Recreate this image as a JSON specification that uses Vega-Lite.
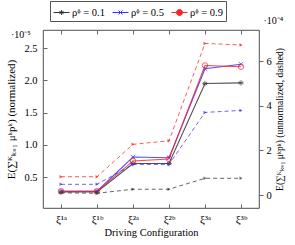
{
  "$schema": "https://vega.github.io/schema/vega-lite/v6.json",
  "width": 216,
  "height": 178,
  "autosize": {"type": "none"},
  "padding": {"left": 43, "top": 30, "right": 36, "bottom": 37},
  "background": "white",
  "title": {"text": "·10⁻⁵", "anchor": "start", "frame": "group", "dx": -32, "dy": 42, "offset": 3, "fontSize": 10, "fontWeight": "normal", "font": "Liberation Serif", "color": "#000"},
  "config": {
    "font": "Liberation Serif",
    "view": {"stroke": "#222", "strokeWidth": 0.8},
    "axis": {"grid": false, "domain": false, "labelFont": "Liberation Serif", "titleFont": "Liberation Serif", "labelColor": "#000", "titleColor": "#000", "tickColor": "#666", "titleFontWeight": "normal"},
    "legend": {"labelFont": "Liberation Serif"}
  },
  "datasets": {
    "d": [
      {"cfg": "ξ¹ᵃ", "s": "ρᶲ = 0.1", "n": 0.27, "u": 0.10},
      {"cfg": "ξ¹ᵇ", "s": "ρᶲ = 0.1", "n": 0.27, "u": 0.08},
      {"cfg": "ξ²ᵃ", "s": "ρᶲ = 0.1", "n": 0.71, "u": 0.26},
      {"cfg": "ξ²ᵇ", "s": "ρᶲ = 0.1", "n": 0.71, "u": 0.26},
      {"cfg": "ξ³ᵃ", "s": "ρᶲ = 0.1", "n": 1.95, "u": 0.75},
      {"cfg": "ξ³ᵇ", "s": "ρᶲ = 0.1", "n": 1.96, "u": 0.75},
      {"cfg": "ξ¹ᵃ", "s": "ρᶲ = 0.5", "n": 0.28, "u": 0.48},
      {"cfg": "ξ¹ᵇ", "s": "ρᶲ = 0.5", "n": 0.28, "u": 0.48},
      {"cfg": "ξ²ᵃ", "s": "ρᶲ = 0.5", "n": 0.81, "u": 1.37},
      {"cfg": "ξ²ᵇ", "s": "ρᶲ = 0.5", "n": 0.80, "u": 1.37},
      {"cfg": "ξ³ᵃ", "s": "ρᶲ = 0.5", "n": 2.18, "u": 3.70},
      {"cfg": "ξ³ᵇ", "s": "ρᶲ = 0.5", "n": 2.25, "u": 3.79},
      {"cfg": "ξ¹ᵃ", "s": "ρᶲ = 0.9", "n": 0.28, "u": 0.82},
      {"cfg": "ξ¹ᵇ", "s": "ρᶲ = 0.9", "n": 0.28, "u": 0.82},
      {"cfg": "ξ²ᵃ", "s": "ρᶲ = 0.9", "n": 0.75, "u": 2.27},
      {"cfg": "ξ²ᵇ", "s": "ρᶲ = 0.9", "n": 0.78, "u": 2.43},
      {"cfg": "ξ³ᵃ", "s": "ρᶲ = 0.9", "n": 2.23, "u": 6.79},
      {"cfg": "ξ³ᵇ", "s": "ρᶲ = 0.9", "n": 2.21, "u": 6.72}
    ]
  },
  "data": {"name": "d"},
  "encoding": {
    "color": {
      "field": "s", "type": "nominal",
      "scale": {"domain": ["ρᶲ = 0.1", "ρᶲ = 0.5", "ρᶲ = 0.9"], "range": ["#333333", "#3333ff", "#ff2222"]},
      "legend": {"orient": "none", "legendX": 7, "legendY": -29, "direction": "horizontal", "title": null, "strokeColor": "#555", "fillColor": "white", "padding": 3, "symbolSize": 256, "symbolStrokeWidth": 1, "symbolOpacity": 1, "symbolFillColor": "transparent", "labelFontSize": 10.5, "labelOffset": 2, "columnPadding": 5,
        "encode": {"symbols": {"update": {"fill": {"value": "transparent"}, "opacity": {"value": 1}}}}}
    }
  },
  "layer": [
    {
      "encoding": {
        "x": {
          "field": "cfg", "type": "ordinal",
          "scale": {"type": "point", "padding": 0.5, "domain": ["ξ¹ᵃ", "ξ¹ᵇ", "ξ²ᵃ", "ξ²ᵇ", "ξ³ᵃ", "ξ³ᵇ"]},
          "axis": {"labelAngle": 0, "labelFontSize": 11, "tickSize": -4, "labelPadding": 9, "title": "Driving Configuration", "titleFontSize": 10.5, "titlePadding": 3}
        },
        "y": {"field": "n", "type": "quantitative", "scale": {"domain": [0.02, 2.78], "nice": false, "zero": false},
          "axis": {"values": [0.5, 1, 1.5, 2, 2.5], "labelFontSize": 10.5, "tickSize": -4, "labelPadding": 10, "title": "E(∑ᴷₖ₌₁ μᵏpᵏ) (normalized)", "titleFontSize": 11, "titlePadding": 7}}
      },
      "layer": [
        {"mark": {"type": "line", "strokeWidth": 1.1, "opacity": 0.85}},
        {"transform": [{"filter": "datum.s == 'ρᶲ = 0.1'"}], "mark": {"type": "point", "filled": false, "size": 30, "strokeWidth": 1, "shape": "M-1,0L1,0M0,-1L0,1M-0.8,-0.5L0.8,0.5M-0.8,0.5L0.8,-0.5"}},
        {"transform": [{"filter": "datum.s == 'ρᶲ = 0.5'"}], "mark": {"type": "point", "filled": false, "size": 30, "strokeWidth": 1, "shape": "M-0.8,-0.8L0.8,0.8M-0.8,0.8L0.8,-0.8"}},
        {"transform": [{"filter": "datum.s == 'ρᶲ = 0.9'"}], "mark": {"type": "point", "filled": false, "size": 30, "strokeWidth": 1, "shape": "circle"}},
        {"mark": {"type": "point", "filled": false, "opacity": 0, "size": 256},
          "encoding": {"shape": {"field": "s", "type": "nominal", "scale": {"domain": ["ρᶲ = 0.1", "ρᶲ = 0.5", "ρᶲ = 0.9"], "range": [
            "M-1,0L1,0M0,-0.3L0,0.3M-0.26,-0.15L0.26,0.15M-0.26,0.15L0.26,-0.15",
            "M-1,0L1,0M-0.25,-0.25L0.25,0.25M-0.25,0.25L0.25,-0.25",
            "M-1,0L-0.38,0M0.38,0L1,0M-0.38,0A0.38,0.38 0 1,0 0.38,0A0.38,0.38 0 1,0 -0.38,0"
          ]}, "legend": {"orient": "none", "legendX": 7, "legendY": -29, "direction": "horizontal", "title": null, "strokeColor": "#555", "fillColor": "white", "padding": 3, "symbolSize": 256, "symbolStrokeWidth": 1, "symbolOpacity": 1, "symbolFillColor": "transparent", "labelFontSize": 10.5, "labelOffset": 2, "columnPadding": 5,
            "encode": {"symbols": {"update": {"fill": {"value": "transparent"}, "opacity": {"value": 1}}}}}}}}
      ]
    },
    {
      "encoding": {
        "x": {
          "field": "cfg", "type": "ordinal",
          "scale": {"type": "point", "padding": 0.5, "domain": ["ξ¹ᵃ", "ξ¹ᵇ", "ξ²ᵃ", "ξ²ᵇ", "ξ³ᵃ", "ξ³ᵇ"]},
          "axis": {"orient": "top", "labels": false, "tickSize": -4, "title": "·10⁻⁴", "titleFontSize": 10, "titleAngle": 0, "titleAlign": "left", "titleBaseline": "alphabetic", "titleX": 220, "titleY": -7}
        },
        "y": {"field": "u", "type": "quantitative", "scale": {"domain": [-0.58, 7.39], "nice": false, "zero": false},
          "axis": {"orient": "right", "values": [0, 2, 4, 6], "labelFontSize": 10.5, "tickSize": 4, "labelPadding": 3, "title": "E(∑ᴷₖ₌₁ μᵏpᵏ) (unnormalized, dashed)", "titleFontSize": 9.5, "titleAngle": 270, "titlePadding": 13}}
      },
      "layer": [
        {"mark": {"type": "line", "strokeWidth": 1, "strokeDash": [4, 3], "opacity": 0.75}},
        {"mark": {"type": "point", "filled": true, "size": 12, "shape": "triangle-right", "opacity": 0.75}}
      ]
    }
  ],
  "resolve": {"scale": {"y": "independent"}, "axis": {"x": "independent"}}
}
